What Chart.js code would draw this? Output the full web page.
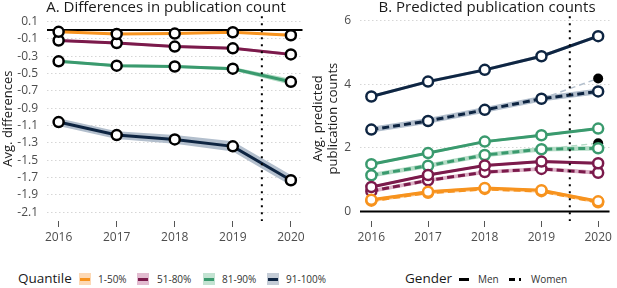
<!DOCTYPE html>
<html><head><meta charset="utf-8">
<script src="https://cdn.jsdelivr.net/npm/chart.js@4"></script>
<style>
html,body{margin:0;padding:0;background:#fff;}
#wrap{position:relative;width:617px;height:288px;font-family:"Open Sans",sans-serif;color:#1a1a1a;}
canvas{position:absolute;top:0;}
.lg{position:absolute;top:271px;font-size:10px;color:#333;line-height:16px;white-space:nowrap;}
.lgt{position:absolute;top:269px;font-size:13.5px;color:#1a1a1a;line-height:18px;}
.sw{position:absolute;top:273px;width:12px;height:12px;}
.sw i{position:absolute;left:1px;top:5px;width:10px;height:2.5px;}
</style></head><body>
<div id="wrap">
<canvas id="ca" width="310" height="252" style="left:0"></canvas>
<canvas id="cb" width="307" height="252" style="left:310px"></canvas>
<div class="lgt" style="left:18px">Quantile</div>
<div class="sw" style="left:79px;background:#fdd9b5"><i style="background:#f7931e"></i></div>
<div class="lg" style="left:98px">1-50%</div>
<div class="sw" style="left:137px;background:#e2bcd0"><i style="background:#7b1a4b"></i></div>
<div class="lg" style="left:157px">51-80%</div>
<div class="sw" style="left:203px;background:#c3e3d2"><i style="background:#3a9a6e"></i></div>
<div class="lg" style="left:222px">81-90%</div>
<div class="sw" style="left:267px;background:#c4ccd6"><i style="background:#0e2542"></i></div>
<div class="lg" style="left:286px">91-100%</div>
<div class="lgt" style="left:405px">Gender</div>
<div class="sw" style="left:458px"><i style="background:#000;height:3px"></i></div>
<div class="lg" style="left:478px">Men</div>
<div class="sw" style="left:508px"><i style="background:#000;height:3px;width:6px"></i><i style="background:#000;left:11px;width:1.5px;height:3px"></i></div>
<div class="lg" style="left:531px">Women</div>
</div>
<script>
const years = [2016, 2017, 2018, 2019, 2020];
const quantiles = ["1-50%", "51-80%", "81-90%", "91-100%"];
const colors = ["#f7931e", "#7b1a4b", "#3a9a6e", "#0e2542"];
const bands  = ["#fbcf9f", "#dcb1c6", "#b4dcc6", "#b3bfcd"];

// Panel A: differences (women - men)
const diff1_50   = [-0.02, -0.045, -0.04, -0.025, -0.06];
const diff51_80  = [-0.12, -0.15, -0.19, -0.21, -0.28];
const diff81_90  = [-0.36, -0.41, -0.42, -0.445, -0.595];
const diff91_100 = [-1.06, -1.21, -1.26, -1.34, -1.73];
const diffCI1_50   = [0.01, 0.01, 0.01, 0.01, 0.015];
const diffCI51_80  = [0.015, 0.015, 0.015, 0.015, 0.02];
const diffCI81_90  = [0.015, 0.015, 0.015, 0.02, 0.035];
const diffCI91_100 = [0.045, 0.045, 0.05, 0.06, 0.06];
const aTicks = [0.1, -0.1, -0.3, -0.5, -0.7, -0.9, -1.1, -1.3, -1.5, -1.7, -1.9, -2.1];

// Panel B: predicted counts
const men1_50    = [0.37, 0.62, 0.74, 0.67, 0.32];
const women1_50  = [0.34, 0.59, 0.71, 0.64, 0.29];
const men51_80   = [0.77, 1.15, 1.45, 1.57, 1.52];
const women51_80 = [0.64, 0.98, 1.24, 1.34, 1.22];
const men81_90   = [1.49, 1.84, 2.2, 2.4, 2.61];
const women81_90 = [1.14, 1.44, 1.78, 1.96, 1.99];
const men91_100  = [3.62, 4.09, 4.46, 4.89, 5.52];
const women91_100= [2.58, 2.85, 3.2, 3.55, 3.78];
const menCI   = [0.04, 0.04, 0.04, 0.05];
const womenCI = [0.05, 0.06, 0.07, 0.09];
// counterfactual 2020 values for women (black dots)
const proj2020 = [null, 1.27, 2.15, 4.19];
const bTicks = [0, 2, 4, 6];

const font = {family: "'Open Sans', sans-serif"};

function ribbon(vals, hw, color) {
  return [
    {data: years.map((x,i)=>({x, y: vals[i]+hw[i]})), borderWidth:0, pointRadius:0, fill:false, order:20, backgroundColor:color},
    {data: years.map((x,i)=>({x, y: vals[i]-hw[i]})), borderWidth:0, pointRadius:0, fill:'-1', order:20, backgroundColor:color}
  ];
}

const refLines = {
  id:'refLines',
  beforeDatasetsDraw(chart) {
    const {ctx, chartArea:a, scales:{x,y}} = chart;
    ctx.save();
    const y0 = y.getPixelForValue(0);
    ctx.strokeStyle = '#000'; ctx.lineWidth = 2;
    ctx.beginPath(); ctx.moveTo(a.left, y0); ctx.lineTo(a.right, y0); ctx.stroke();
    ctx.restore();
  },
  afterDatasetsDraw(chart) {
    const {ctx, chartArea:a, scales:{x}} = chart;
    ctx.save();
    const xv = x.getPixelForValue(2019.5);
    ctx.strokeStyle = '#000'; ctx.lineWidth = 2; ctx.setLineDash([2,5]);
    ctx.beginPath(); ctx.moveTo(xv, a.top); ctx.lineTo(xv, a.bottom); ctx.stroke();
    ctx.restore();
  }
};

// panel title drawn centred at a given canvas x
function titlePlugin(text, cx) {
  return {
    id:'panelTitle',
    afterDraw(chart) {
      const ctx = chart.ctx;
      ctx.save();
      ctx.font = "15px 'Open Sans', sans-serif";
      ctx.fillStyle = '#1a1a1a';
      ctx.textAlign = 'center';
      ctx.textBaseline = 'middle';
      ctx.fillText(text, cx, 8);
      ctx.restore();
    }
  };
}

function baseOpts(yTitle, ymin, ymax, ticks, yW) {
  return {
    responsive:false, animation:false, devicePixelRatio:1,
    layout:{padding:{top:16,right:2,bottom:0,left:0}},
    plugins:{legend:{display:false}, tooltip:{enabled:false}, title:{display:false}},
    scales:{
      x:{type:'linear', min:2015.8, max:2020.2,
        afterBuildTicks:s=>{s.ticks = years.map(v=>({value:v}));},
        afterFit:s=>{s.height = 31;},
        grid:{drawOnChartArea:false, drawTicks:true, tickLength:6, tickColor:'#555', tickWidth:1},
        border:{display:false},
        ticks:{color:'#4d4d4d', font:{...font, size:12}, padding:3, callback:v=>String(v), maxRotation:0}},
      y:{type:'linear', min:ymin, max:ymax,
        afterBuildTicks:s=>{s.ticks = ticks.map(v=>({value:v}));},
        afterFit:s=>{s.width = yW;},
        grid:{drawTicks:false, color:'#d6d6d6', lineWidth:1},
        border:{display:false, dash:[1.5,2.5]},
        title:{display:true, text:yTitle, color:'#1a1a1a', font:{...font, size:13}, padding:{top:0,bottom:2}},
        ticks:{color:'#4d4d4d', font:{...font, size:12}, padding:9, callback:v=>String(Math.round(v*10)/10)}}
    }
  };
}

// Panel A
const dsA = [];
const aSeries = [diff1_50, diff51_80, diff81_90, diff91_100];
const aCI = [diffCI1_50, diffCI51_80, diffCI81_90, diffCI91_100];
aSeries.forEach((s,k)=>{
  dsA.push(...ribbon(s, aCI[k], bands[k]));
});
aSeries.forEach((s,k)=>{
  dsA.push({label:quantiles[k], data:years.map((x,i)=>({x,y:s[i]})), borderColor:colors[k], borderWidth:3,
    pointRadius:5, pointBorderWidth:2.5, pointBackgroundColor:'#fff', pointBorderColor:'#000', fill:false, order:1});
});
new Chart(document.getElementById('ca'), {type:'line', data:{datasets:dsA},
  options:baseOpts('Avg. differences', -2.2, 0.16, aTicks, 47),
  plugins:[refLines, titlePlugin('A. Differences in publication count', 166)]});

// Panel B
const dsB = [];
const menS = [men1_50, men51_80, men81_90, men91_100];
const womenS = [women1_50, women51_80, women81_90, women91_100];
menS.forEach((s,k)=>{
  dsB.push(...ribbon(womenS[k], years.map((_,i)=>womenCI[k]), bands[k]));
  dsB.push(...ribbon(s, years.map((_,i)=>menCI[k]), bands[k]));
});
proj2020.forEach((p,k)=>{
  if (p===null) return;
  dsB.push({data:[{x:2019,y:womenS[k][3]},{x:2020,y:p}], borderColor:bands[k], borderWidth:1.5, borderDash:[6,4],
    pointRadius:[0,5], pointBackgroundColor:'#000', pointBorderColor:'#000', pointBorderWidth:0, fill:false, order:5});
});
menS.forEach((s,k)=>{
  dsB.push({data:years.map((x,i)=>({x,y:womenS[k][i]})), borderColor:colors[k], borderWidth:3, borderDash:[7,4],
    pointRadius:5, pointBorderWidth:2.5, pointBackgroundColor:'#fff', pointBorderColor:colors[k], fill:false, order:2});
  dsB.push({data:years.map((x,i)=>({x,y:s[i]})), borderColor:colors[k], borderWidth:3,
    pointRadius:5, pointBorderWidth:2.5, pointBackgroundColor:'#fff', pointBorderColor:colors[k], fill:false, order:1});
});
new Chart(document.getElementById('cb'), {type:'line', data:{datasets:dsB},
  options:baseOpts(['Avg. predicted','publication counts'], -0.3, 6.15, bTicks, 50),
  plugins:[refLines, titlePlugin('B. Predicted publication counts', 177)]});
</script>
</body></html>
